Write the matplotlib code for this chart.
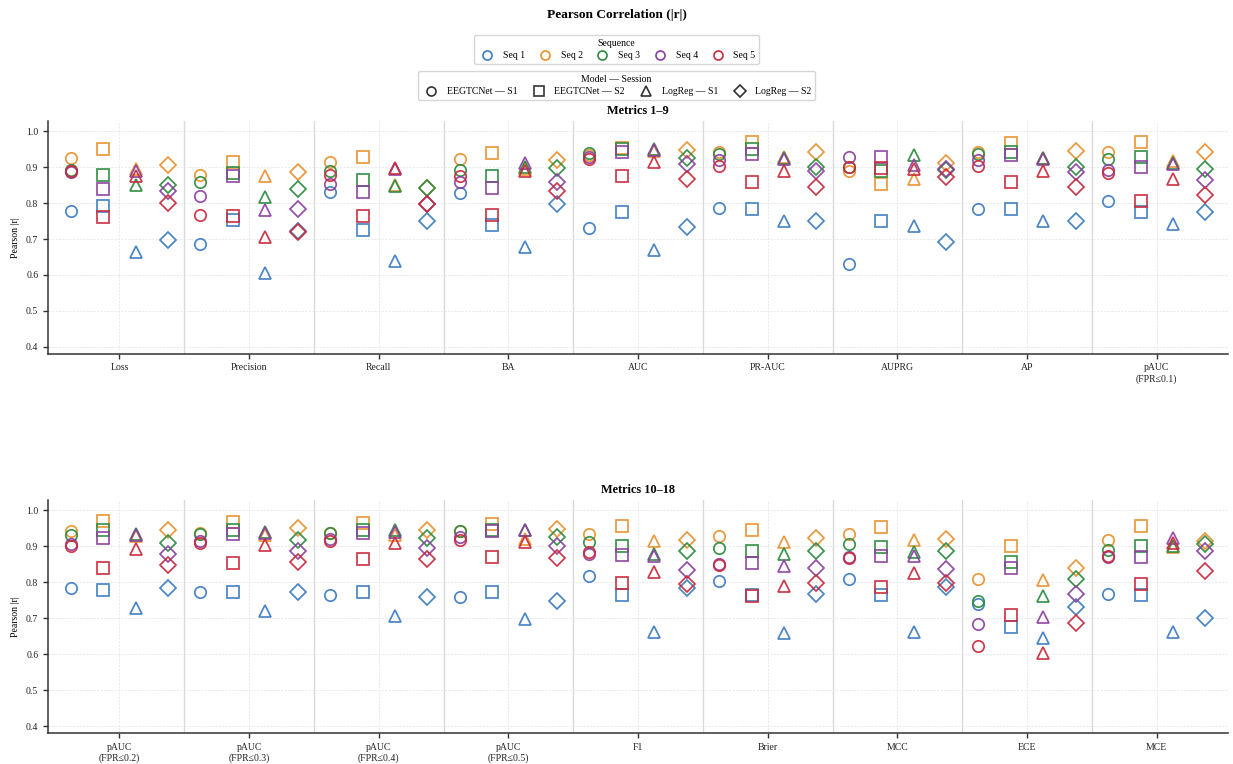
import matplotlib
matplotlib.use("Agg")
import matplotlib.pyplot as plt
from matplotlib.lines import Line2D
import numpy as np

plt.rcParams['font.family'] = ['Liberation Serif', 'DejaVu Serif']

metrics = ["Loss", "Precision", "Recall", "BA", "AUC", "PR-AUC", "AUPRG", "AP",
           "pAUC\n(FPR≤0.1)", "pAUC\n(FPR≤0.2)", "pAUC\n(FPR≤0.3)", "pAUC\n(FPR≤0.4)",
           "pAUC\n(FPR≤0.5)", "F1", "Brier", "MCC", "ECE", "MCE"]
seq_names = ["Seq 1", "Seq 2", "Seq 3", "Seq 4", "Seq 5"]
seq_colors = ["#3b7bbf", "#e8902c", "#2b8a3e", "#8b3fa0", "#c9283c"]
model_names = ["EEGTCNet — S1", "EEGTCNet — S2", "LogReg — S1", "LogReg — S2"]
model_markers = ["o", "s", "^", "D"]

# rows = metrics, cols = Seq 1..5
eegtcnet_s1 = [
    [0.779, 0.926, 0.892, 0.886, 0.891],
    [0.687, 0.878, 0.860, 0.821, 0.768],
    [0.831, 0.915, 0.889, 0.853, 0.879],
    [0.829, 0.924, 0.893, 0.859, 0.877],
    [0.730, 0.935, 0.940, 0.928, 0.923],
    [0.786, 0.942, 0.936, 0.921, 0.904],
    [0.631, 0.891, 0.900, 0.928, 0.901],
    [0.785, 0.944, 0.938, 0.921, 0.903],
    [0.805, 0.944, 0.924, 0.893, 0.884],
    [0.784, 0.943, 0.933, 0.908, 0.901],
    [0.772, 0.937, 0.935, 0.914, 0.910],
    [0.766, 0.937, 0.937, 0.921, 0.914],
    [0.760, 0.942, 0.943, 0.926, 0.919],
    [0.818, 0.935, 0.912, 0.878, 0.884],
    [0.803, 0.928, 0.896, 0.852, 0.847],
    [0.810, 0.935, 0.906, 0.870, 0.869],
    [0.739, 0.809, 0.749, 0.684, 0.624],
    [0.769, 0.919, 0.891, 0.871, 0.873],
]
eegtcnet_s2 = [
    [0.793, 0.952, 0.879, 0.840, 0.761],
    [0.754, 0.914, 0.884, 0.877, 0.765],
    [0.726, 0.929, 0.866, 0.832, 0.764],
    [0.738, 0.940, 0.877, 0.841, 0.767],
    [0.775, 0.955, 0.950, 0.944, 0.876],
    [0.785, 0.970, 0.951, 0.936, 0.858],
    [0.750, 0.853, 0.889, 0.928, 0.898],
    [0.785, 0.969, 0.943, 0.935, 0.858],
    [0.776, 0.972, 0.929, 0.900, 0.806],
    [0.778, 0.972, 0.945, 0.924, 0.841],
    [0.773, 0.968, 0.946, 0.935, 0.855],
    [0.773, 0.965, 0.945, 0.938, 0.864],
    [0.774, 0.963, 0.945, 0.943, 0.871],
    [0.766, 0.956, 0.901, 0.875, 0.797],
    [0.764, 0.946, 0.887, 0.855, 0.763],
    [0.766, 0.954, 0.898, 0.872, 0.787],
    [0.675, 0.902, 0.857, 0.841, 0.709],
    [0.764, 0.958, 0.900, 0.871, 0.795],
]
logreg_s1 = [
    [0.665, 0.896, 0.852, 0.890, 0.875],
    [0.606, 0.877, 0.817, 0.780, 0.707],
    [0.638, 0.851, 0.849, 0.896, 0.898],
    [0.679, 0.896, 0.901, 0.912, 0.891],
    [0.668, 0.945, 0.951, 0.949, 0.915],
    [0.751, 0.928, 0.926, 0.924, 0.891],
    [0.736, 0.868, 0.935, 0.907, 0.895],
    [0.750, 0.925, 0.926, 0.924, 0.890],
    [0.743, 0.917, 0.912, 0.910, 0.868],
    [0.730, 0.930, 0.935, 0.933, 0.892],
    [0.720, 0.931, 0.940, 0.937, 0.903],
    [0.706, 0.933, 0.945, 0.940, 0.909],
    [0.697, 0.921, 0.946, 0.945, 0.912],
    [0.662, 0.915, 0.878, 0.872, 0.829],
    [0.660, 0.912, 0.878, 0.845, 0.789],
    [0.662, 0.917, 0.884, 0.872, 0.826],
    [0.646, 0.806, 0.761, 0.704, 0.605],
    [0.662, 0.898, 0.901, 0.924, 0.909],
]
logreg_s2 = [
    [0.698, 0.907, 0.852, 0.835, 0.800],
    [0.721, 0.888, 0.840, 0.785, 0.719],
    [0.749, 0.843, 0.841, 0.799, 0.797],
    [0.797, 0.921, 0.897, 0.860, 0.834],
    [0.734, 0.947, 0.926, 0.909, 0.868],
    [0.749, 0.944, 0.901, 0.889, 0.845],
    [0.693, 0.912, 0.893, 0.896, 0.872],
    [0.749, 0.945, 0.901, 0.888, 0.845],
    [0.776, 0.944, 0.895, 0.864, 0.823],
    [0.784, 0.947, 0.910, 0.880, 0.847],
    [0.773, 0.952, 0.917, 0.887, 0.857],
    [0.760, 0.947, 0.924, 0.896, 0.864],
    [0.749, 0.949, 0.926, 0.901, 0.869],
    [0.783, 0.917, 0.886, 0.835, 0.795],
    [0.767, 0.924, 0.887, 0.841, 0.797],
    [0.787, 0.921, 0.887, 0.838, 0.797],
    [0.732, 0.841, 0.809, 0.769, 0.686],
    [0.701, 0.914, 0.908, 0.887, 0.831],
]
all_models = [np.array(eegtcnet_s1), np.array(eegtcnet_s2),
              np.array(logreg_s1), np.array(logreg_s2)]
offsets = [-0.375, -0.125, 0.125, 0.375]

fig = plt.figure(figsize=(12.33, 7.64), dpi=100)
ax1 = fig.add_axes([0.039, 0.537, 0.957, 0.305])
ax2 = fig.add_axes([0.039, 0.040, 0.957, 0.306])

for ax, start, title in [(ax1, 0, "Metrics 1–9"), (ax2, 9, "Metrics 10–18")]:
    idx = np.arange(9)
    for m in range(4):
        vals = all_models[m][start:start + 9]
        for s in range(5):
            ax.plot(idx + offsets[m], vals[:, s], linestyle="none",
                    marker=model_markers[m], markersize=8.2, markerfacecolor="none",
                    markeredgecolor=seq_colors[s], markeredgewidth=1.25, alpha=0.92)
    for b in np.arange(0.5, 8.5, 1):
        ax.axvline(b, color="#dadada", lw=1.0, zorder=0)
    ax.set_xticks(idx)
    ax.set_xticklabels(metrics[start:start + 9], fontsize=7)
    ax.set_xlim(-0.55, 8.55)
    ax.set_ylim(0.38, 1.03)
    ax.set_yticks(np.arange(0.4, 1.01, 0.1))
    ax.set_yticklabels([f"{v:.1f}" for v in np.arange(0.4, 1.01, 0.1)], fontsize=7)
    ax.grid(True, linestyle=(0, (3, 2)), linewidth=0.5, color="#e2e2e2", zorder=0)
    ax.set_axisbelow(True)
    ax.set_ylabel("Pearson |r|", fontsize=7)
    ax.set_title(title, fontsize=8.8, fontweight="bold", pad=5)
    ax.spines["top"].set_visible(False)
    ax.spines["right"].set_visible(False)
    for sp in ["left", "bottom"]:
        ax.spines[sp].set_color("#333333")
        ax.spines[sp].set_linewidth(1.1)
    ax.tick_params(length=3.5, width=1.0, color="#333333", labelcolor="#222222")

fig.text(0.5, 0.981, "Pearson Correlation (|r|)", fontsize=9.6, fontweight="bold",
         ha="center", va="center")

seq_handles = [Line2D([], [], linestyle="none", marker="o", markersize=6.5,
                      markerfacecolor="none", markeredgecolor=c, markeredgewidth=1.2)
               for c in seq_colors]
fig.legend(seq_handles, seq_names, title="Sequence", ncol=5, loc="upper center",
           bbox_to_anchor=(0.5, 0.96), fontsize=7, title_fontsize=7,
           frameon=True, edgecolor="#cccccc", handletextpad=0.6, columnspacing=1.05,
           borderpad=0.4, labelspacing=0.3)
model_handles = [Line2D([], [], linestyle="none", marker=mk, markersize=6.5,
                        markerfacecolor="none", markeredgecolor="#333333", markeredgewidth=1.2)
                 for mk in model_markers]
fig.legend(model_handles, model_names, title="Model — Session", ncol=4, loc="upper center",
           bbox_to_anchor=(0.5, 0.913), fontsize=7, title_fontsize=7,
           frameon=True, edgecolor="#cccccc", handletextpad=0.6, columnspacing=1.2,
           borderpad=0.4, labelspacing=0.3)

fig.savefig("out.png", dpi=100)
